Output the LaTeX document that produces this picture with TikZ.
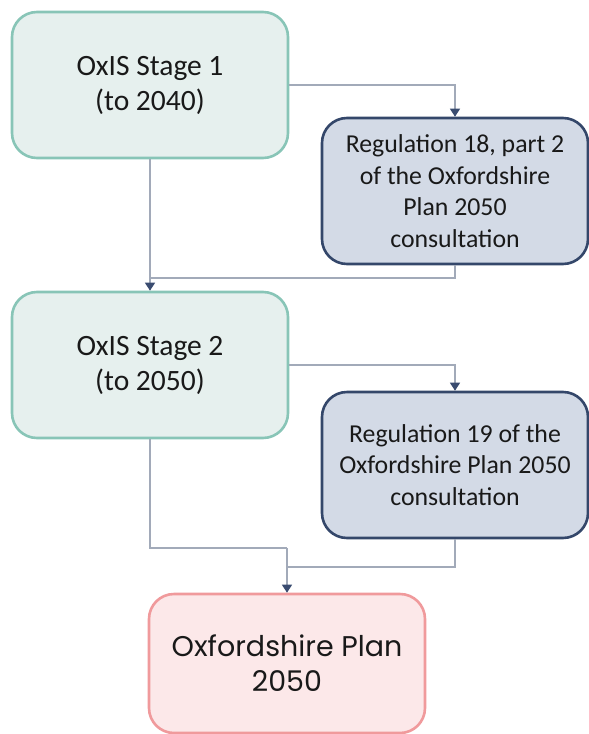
\documentclass[tikz,border=0pt]{standalone}
\usepackage{fontspec}
\setmainfont{Carlito}
\newfontfamily\planfont{Poppins}
\usetikzlibrary{arrows.meta}
\definecolor{grfill}{HTML}{E6F0EE}
\definecolor{grline}{HTML}{88C5B7}
\definecolor{blfill}{HTML}{D3DAE6}
\definecolor{blline}{HTML}{34476A}
\definecolor{rdfill}{HTML}{FCE8E9}
\definecolor{rdline}{HTML}{F09A9C}
\definecolor{conn}{HTML}{A2AAB9}
\definecolor{tipc}{HTML}{3A4C70}
\tikzset{
  box/.style={rounded corners=25pt, line width=2.6pt, align=center, inner sep=0pt, text=black!90},
  grbox/.style={box, draw=grline, fill=grfill, minimum width=276pt, minimum height=146pt, font=\fontsize{29.5}{35}\selectfont},
  blbox/.style={box, draw=blline, fill=blfill, minimum width=266pt, minimum height=146pt, font=\fontsize{25.8}{31.5}\selectfont},
  rdbox/.style={box, draw=rdline, fill=rdfill, minimum width=276pt, minimum height=139pt, font=\planfont\fontsize{28.5}{35}\selectfont},
  link/.style={draw=conn, line width=1.3pt},
  arr/.style={link, -{Triangle[width=10pt,length=8pt,color=tipc]}}
}
\begin{document}
\begin{tikzpicture}[x=1pt,y=-1pt]
\useasboundingbox (0,0) rectangle (589,734);
\node[grbox] (b1) at (150,85) {OxIS Stage 1\\(to 2040)};
\node[blbox] (b2) at (455,191) {Regulation 18, part 2\\of the Oxfordshire\\Plan 2050\\consultation};
\node[grbox] (b3) at (150,365) {OxIS Stage 2\\(to 2050)};
\node[blbox] (b4) at (455,465) {Regulation 19 of the\\Oxfordshire Plan 2050\\consultation};
\node[rdbox] (b5) at (287,663.5) {Oxfordshire Plan\\2050};
\coordinate (j1) at (150,278);
\coordinate (j2) at (287,548);
\coordinate (j3) at (287,567);
\draw[arr] (b1.east) -| (b2.north);
\draw[link] (b2.south) |- (j1);
\draw[arr] (b1.south) -- (b3.north);
\draw[arr] (b3.east) -| (b4.north);
\draw[link] (b3.south) |- (j2);
\draw[link] (b4.south) |- (j3);
\draw[arr] (j2) -- (b5.north);
\end{tikzpicture}
\end{document}
